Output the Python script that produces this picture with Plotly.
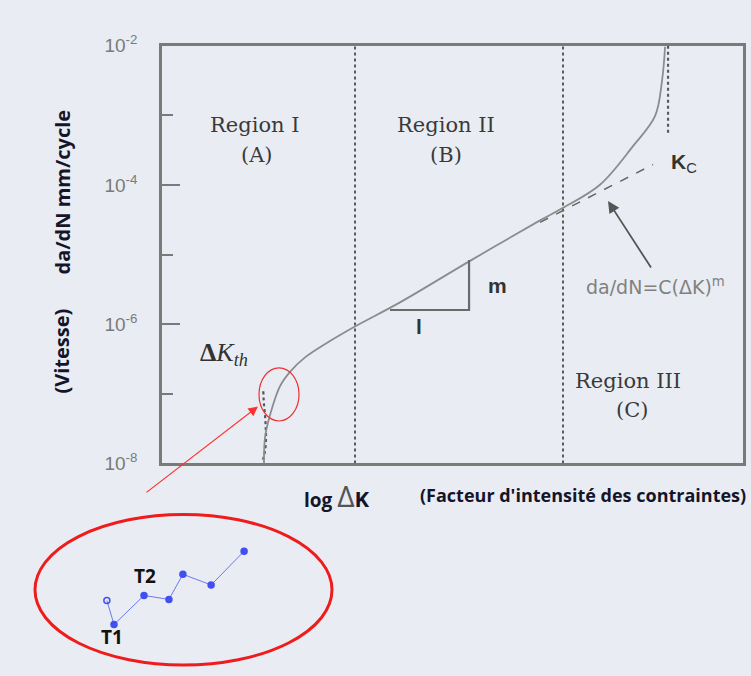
import plotly.graph_objects as go

W, H = 751, 676
BG = "#e9edf3"

# ---------------- data ----------------
# main crack-growth curve (x = log ΔK, arbitrary units; y = da/dN mm/cycle)
dk_curve = [1.053, 1.064, 1.115, 1.219, 1.322, 1.477, 1.735, 1.993, 2.458, 3.181,
            3.904, 4.141, 4.523, 4.864, 5.091, 5.164, 5.195]
dadn_curve = [1.0e-8, 2.37e-8, 4.93e-8, 1.29e-7, 2.07e-7, 3.34e-7, 5.75e-7, 9.29e-7,
              2.06e-6, 8.13e-6, 3.10e-5, 4.70e-5, 1.01e-4, 3.62e-4, 9.73e-4, 3.17e-3, 9.68e-3]

# threshold asymptote (dotted)
dk_th = [1.046, 1.053, 1.064, 1.071, 1.074, 1.064, 1.046, 1.053]
dadn_th = [1.09e-7, 7.0e-8, 5.0e-8, 3.3e-8, 2.3e-8, 1.5e-8, 1.17e-8, 1.0e-8]

# Kc asymptote (dotted)
dk_kc = [5.226, 5.226]
dadn_kc = [1.0e-2, 5.14e-4]

# region boundaries
dk_regions = [1.993, 4.141]
dadn_span = [1.0e-8, 1.0e-2]

# Paris law extrapolation (dashed)
dk_paris = [3.904, 5.071]
dadn_paris = [2.91e-5, 1.97e-4]

# slope triangle
dk_tri = [2.355, 3.171, 3.171]
dadn_tri = [1.60e-6, 1.60e-6, 8.39e-6]

# y ticks
ytick_major = [1e-8, 1e-6, 1e-4, 1e-2]
ytick_text = ["10<sup>-8</sup>", "10<sup>-6</sup>", "10<sup>-4</sup>", "10<sup>-2</sup>"]
ytick_minor = [1e-7, 1e-5, 1e-3]

# inset series (T1, T2 ...)
inset_x = [24.2, 26.6, 36.7, 45.1, 49.8, 59.3, 70.4]
inset_y = [42.9, 26.9, 46.2, 43.6, 60.3, 53.2, 75.6]
inset_sym = ["circle-open", "circle", "circle", "circle", "circle", "circle", "circle"]


def fx(p):
    return p / W


def fy(p):
    return 1 - p / H


fig = go.Figure()

GREY = "#8c8c8c"
DARK = "#5a5a5a"

for xv in dk_regions:
    fig.add_trace(go.Scatter(x=[xv, xv], y=dadn_span, mode="lines",
                             line=dict(color=DARK, width=2, dash="dot"),
                             showlegend=False, hoverinfo="skip"))

fig.add_trace(go.Scatter(x=dk_kc, y=dadn_kc, mode="lines",
                         line=dict(color=DARK, width=2.2, dash="dot"),
                         showlegend=False, hoverinfo="skip"))

fig.add_trace(go.Scatter(x=dk_th, y=dadn_th, mode="lines", line_shape="spline",
                         line=dict(color="#555555", width=2.2, dash="dot"),
                         showlegend=False, hoverinfo="skip"))

fig.add_trace(go.Scatter(x=dk_paris, y=dadn_paris, mode="lines",
                         line=dict(color="#666666", width=1.5, dash="dash"),
                         showlegend=False, hoverinfo="skip"))

fig.add_trace(go.Scatter(x=dk_curve, y=dadn_curve, mode="lines", line_shape="spline",
                         line=dict(color=GREY, width=1.8),
                         showlegend=False, hoverinfo="skip"))

fig.add_trace(go.Scatter(x=dk_tri, y=dadn_tri, mode="lines",
                         line=dict(color="#6a6a6a", width=2.2),
                         showlegend=False, hoverinfo="skip"))

fig.add_trace(go.Scatter(x=inset_x, y=inset_y, mode="lines+markers",
                         xaxis="x2", yaxis="y2",
                         line=dict(color="#6b78f0", width=1),
                         marker=dict(color="#4150f0", size=6, symbol=inset_sym,
                                     line=dict(color="#4150f0", width=1.5)),
                         showlegend=False, hoverinfo="skip"))

fig.update_layout(
    width=W, height=H,
    margin=dict(l=0, r=0, t=0, b=0),
    paper_bgcolor=BG, plot_bgcolor=BG,
    xaxis=dict(domain=[fx(162), fx(743)], range=[0, 6], showgrid=False, zeroline=False,
               showticklabels=False, ticks="", showline=True, mirror=True,
               linecolor="#7a7a7a", linewidth=2.5),
    yaxis=dict(domain=[fy(467), fy(34)], type="log", range=[-8, -2], showgrid=False,
               zeroline=False, tickvals=ytick_major, ticktext=ytick_text,
               ticks="inside", ticklen=18, tickwidth=1.5, tickcolor="#7a7a7a",
               ticklabelstandoff=18,
               tickfont=dict(family="Liberation Sans, Arial", size=19, color="#7a7a7a"),
               minor=dict(tickvals=ytick_minor, ticks="inside", ticklen=11,
                          tickwidth=1.5, tickcolor="#7a7a7a", showgrid=False),
               showline=True, mirror=True, linecolor="#7a7a7a", linewidth=2.5),
    xaxis2=dict(domain=[fx(35), fx(332)], range=[0, 100], visible=False),
    yaxis2=dict(domain=[0, fy(520)], range=[0, 100], visible=False, anchor="x2"),
)

# ellipses
fig.add_shape(type="circle", xref="paper", yref="paper",
              x0=fx(259), x1=fx(299), y0=fy(423), y1=fy(368),
              line=dict(color="#ee3030", width=1.2))
fig.add_shape(type="circle", xref="paper", yref="paper",
              x0=fx(35), x1=fx(332), y0=fy(676), y1=fy(520),
              line=dict(color="#ee1c1c", width=3))

ann = []


def text(x, y, s, size, color="#444", family="DejaVu Serif", xanchor="center", angle=0):
    ann.append(dict(x=fx(x), y=fy(y), xref="paper", yref="paper", text=s, showarrow=False,
                    xanchor=xanchor, yanchor="middle", textangle=angle,
                    font=dict(family=family, size=size, color=color)))


text(255, 116, "Region I", 21, color="#3a3a3a")
text(257, 147, "(A)", 21, color="#3a3a3a")
text(446, 116, "Region II", 21, color="#3a3a3a")
text(446, 147, "(B)", 21, color="#3a3a3a")
text(628, 382, "Region III", 21, color="#3a3a3a")
text(632, 412, "(C)", 21, color="#3a3a3a")
text(224, 354, "<b>Δ</b><i>K<sub>th</sub></i>", 26, color="#333", family="Liberation Serif")

text(684, 156, "<b>K</b><sub>C</sub>", 21, color="#333", family="Liberation Sans")
text(655, 283, "da/dN=C(ΔK)<sup>m</sup>", 19, color="#808080", family="DejaVu Sans")
text(497, 283, "<b>m</b>", 21, color="#333", family="Liberation Sans")
text(419, 325, "<b>l</b>", 21, color="#333", family="Liberation Sans")

text(62, 186, "<b>da/dN mm/cycle</b>", 20, color="#15152a", family="Open Sans", angle=-90)
text(62, 351, "<b>(Vitesse)</b>", 20, color="#15152a", family="Open Sans", angle=-90)

text(302, 500, "<b>log </b><span style='font-size:30px;color:#555'>Δ</span><b><span style='font-size:22px'>K</span></b>",
     19, color="#15152a", family="Open Sans", xanchor="left")
text(418, 500, "<b>(Facteur d'intensité des contraintes)</b>", 18, color="#15152a",
     family="Open Sans", xanchor="left")

text(112, 647, "<b>T1</b>", 19, color="#111", family="Open Sans")
text(145, 584, "<b>T2</b>", 19, color="#111", family="Open Sans")

# arrows
ann.append(dict(x=fx(258), y=fy(408), xref="paper", yref="paper", ax=-113, ay=87,
                text="", showarrow=True, arrowcolor="#ff3030", arrowwidth=1.2,
                arrowhead=2, arrowsize=1.6))
ann.append(dict(x=fx(608), y=fy(195), xref="paper", yref="paper", ax=44, ay=68,
                text="", showarrow=True, arrowcolor="#555", arrowwidth=1.8,
                arrowhead=2, arrowsize=1.3))

fig.update_layout(annotations=ann)

fig.write_html("out.html", config={"displayModeBar": False},
               post_script="document.body.style.margin='0';document.body.style.padding='0';"
                           "document.body.style.overflow='hidden';"
                           "document.documentElement.style.overflow='hidden';"
                           "document.body.style.background='" + BG + "';")
